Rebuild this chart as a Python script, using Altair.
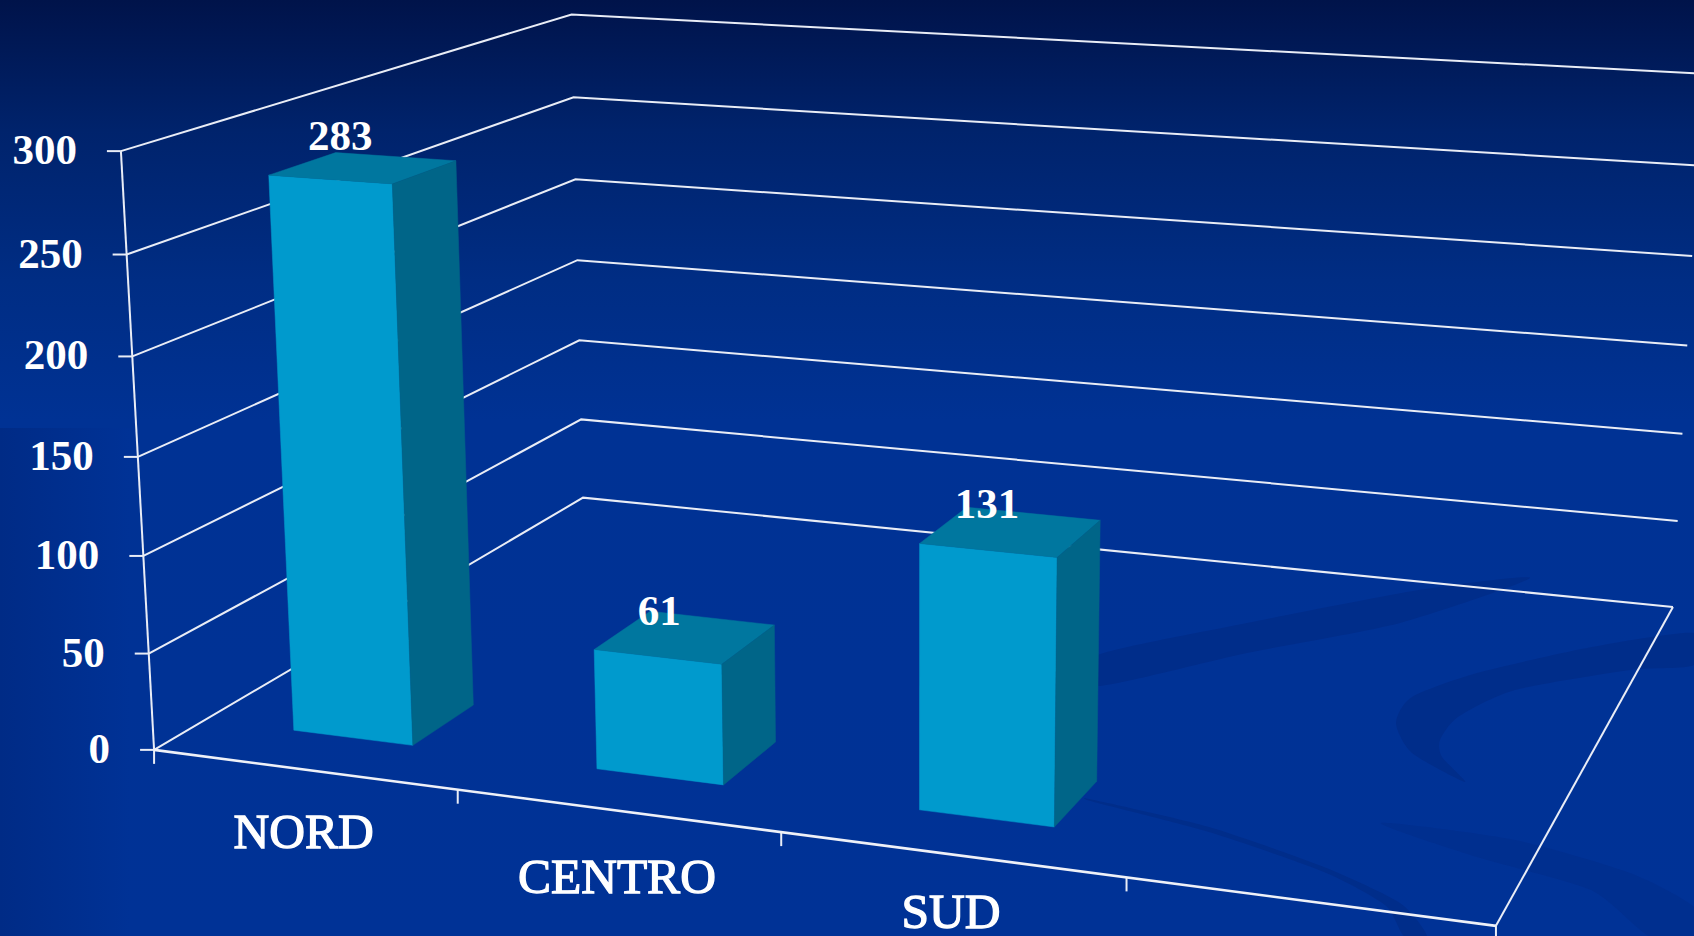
import altair as alt
import numpy as np
import pandas as pd

# Chart content
categories = ["NORD", "CENTRO", "SUD"]
values = [283, 61, 131]
value_ticks = [0, 50, 100, 150, 200, 250, 300]

# Layout of the 3D box: one empty band follows the last category
N_BANDS = 4
BAR_WIDTH = 0.4
DEPTH_FRONT, DEPTH_BACK = 0.1, 0.233

# Camera that maps (band, value / 100, depth) to page pixels
CAMERA = np.array([
    [289.63724162608827, -12.741425922855699, 575.3132291635848, 154.0771284311262],
    [15.625389953778255, -201.68992601910819, -127.27733025485871, 749.8733151865808],
    [-0.030637676831297256, -0.013941565034277126, 0.251066238724831, 1.0],
])

W, H = 1694, 936


def project(band, value, depth):
    p = CAMERA @ np.array([band, value / 100.0, depth, 1.0])
    return p[0] / p[2], p[1] / p[2]


x_scale = alt.Scale(domain=[0, W], range=[0, W])
y_scale = alt.Scale(domain=[0, H], range=[0, H])
X = alt.X("x:Q", scale=x_scale, axis=None)
Y = alt.Y("y:Q", scale=y_scale, axis=None)
X2 = alt.X("px:Q", scale=x_scale, axis=None)
Y2 = alt.Y("py:Q", scale=y_scale, axis=None)

one_row = pd.DataFrame({"a": [0]})

# Page background: dark navy fading into royal blue
background = alt.Chart(one_row).mark_rect(
    color=alt.Gradient(
        gradient="linear", x1=0, x2=0, y1=0, y2=1,
        stops=[
            alt.GradientStop(offset=0.0, color="#00134a"),
            alt.GradientStop(offset=0.14, color="#00236c"),
            alt.GradientStop(offset=0.30, color="#002d84"),
            alt.GradientStop(offset=0.45, color="#003294"),
            alt.GradientStop(offset=1.0, color="#003296"),
        ],
    )
).encode(x=alt.value(0), x2=alt.value(W), y=alt.value(0), y2=alt.value(H))

# Soft darker strip along the lower left edge
left_strip = alt.Chart(one_row).mark_rect(
    color=alt.Gradient(
        gradient="linear", x1=0, x2=1, y1=0, y2=0,
        stops=[
            alt.GradientStop(offset=0.0, color="#002b86"),
            alt.GradientStop(offset=1.0, color="#003296"),
        ],
    )
).encode(x=alt.value(0), x2=alt.value(130), y=alt.value(428), y2=alt.value(H))

# Decorative swooshes of the slide template
swoosh_crescent_x = [1694, 1592, 1477, 1412, 1396, 1412, 1465, 1442, 1440, 1458, 1515, 1630, 1694]
swoosh_crescent_y = [633, 647, 673, 697, 723, 753, 782, 757, 740, 717, 690, 670, 665]
swoosh_band_x = [1098, 1247, 1419, 1530, 1400, 1247, 1098]
swoosh_band_y = [655, 623, 590, 578, 623, 653, 686]
swoosh_thin_x = [1094, 1209, 1324, 1400, 1427, 1404, 1385, 1324, 1209, 1094]
swoosh_thin_y = [800, 827, 867, 903, 936, 936, 905, 872, 832, 802]
swoosh_low_x = [1381, 1515, 1630, 1694, 1694, 1649, 1591, 1477]
swoosh_low_y = [823, 840, 873, 907, 936, 936, 890, 857]


def swoosh_table(*shapes):
    rows = []
    for name, xs, ys in shapes:
        for i, (a, b) in enumerate(zip(xs, ys)):
            rows.append({"s": name, "i": i, "px": a, "py": b})
    return pd.DataFrame(rows)


swooshes = alt.Chart(swoosh_table(
    ("crescent", swoosh_crescent_x, swoosh_crescent_y),
    ("band", swoosh_band_x, swoosh_band_y),
    ("thin", swoosh_thin_x, swoosh_thin_y),
)).mark_line(
    fill="#002d8a", stroke="#002d8a", strokeWidth=0, interpolate="cardinal-closed", tension=0.3
).encode(x=X2, y=Y2, detail="s:N", order="i:Q")

swoosh_faint = alt.Chart(swoosh_table(("low", swoosh_low_x, swoosh_low_y))).mark_line(
    fill="#002f8f", stroke="#002f8f", strokeWidth=0, interpolate="cardinal-closed", tension=0.3
).encode(x=X2, y=Y2, detail="s:N", order="i:Q")

# Wire frame: walls, floor and ticks
wire = []
thick = []


def add(rows, seg, points):
    for i, (a, b) in enumerate(points):
        rows.append({"seg": seg, "i": i, "x": a, "y": b})


for v in value_ticks:
    add(wire, f"grid{v}", [project(0, v, 0), project(0, v, 1), project(N_BANDS, v, 1)])
    fx, fy = project(0, v, 0)
    add(wire, f"tick{v}", [(fx - 14, fy), (fx, fy)])
add(wire, "axis", [project(0, 0, 0), project(0, 300, 0)])
add(wire, "side", [project(N_BANDS, 0, 0), project(N_BANDS, 0, 1)])
add(thick, "front", [project(0, 0, 0), project(N_BANDS, 0, 0)])
for b in range(N_BANDS + 1):
    fx, fy = project(b, 0, 0)
    add(wire, f"xtick{b}", [(fx, fy), (fx, fy + 14)])

wire_layer = alt.Chart(pd.DataFrame(wire)).mark_line(color="#e9edf6", strokeWidth=2).encode(
    x=X, y=Y, detail="seg:N", order="i:Q"
)
front_layer = alt.Chart(pd.DataFrame(thick)).mark_line(color="#eef1f8", strokeWidth=2.6).encode(
    x=X, y=Y, detail="seg:N", order="i:Q"
)

# Bars: three visible faces per category
faces = {"front": [], "top": [], "side": []}
for b, (cat, val) in enumerate(zip(categories, values)):
    x0, x1 = b + 0.5 - BAR_WIDTH / 2, b + 0.5 + BAR_WIDTH / 2
    outlines = {
        "front": [(x0, 0, DEPTH_FRONT), (x1, 0, DEPTH_FRONT), (x1, val, DEPTH_FRONT), (x0, val, DEPTH_FRONT)],
        "top": [(x0, val, DEPTH_FRONT), (x1, val, DEPTH_FRONT), (x1, val, DEPTH_BACK), (x0, val, DEPTH_BACK)],
        "side": [(x1, 0, DEPTH_FRONT), (x1, 0, DEPTH_BACK), (x1, val, DEPTH_BACK), (x1, val, DEPTH_FRONT)],
    }
    for face, corners in outlines.items():
        pts = [project(*c) for c in corners]
        pts.append(pts[0])
        add(faces[face], cat, pts)

face_colors = {"front": "#009acd", "top": "#00779f", "side": "#006588"}
bar_layers = [
    alt.Chart(pd.DataFrame(rows)).mark_line(
        fill=face_colors[face], stroke=face_colors[face], strokeWidth=0.5
    ).encode(x=X, y=Y, detail="seg:N", order="i:Q")
    for face, rows in faces.items()
]

FONT = "Liberation Serif"

# Value labels above each bar top
VALUE_LABEL_DX = [-23, -26, -24]
VALUE_LABEL_DY = [-31, -25, -27]
value_rows = []
for b, val in enumerate(values):
    cx, cy = project(b + 0.5, val, (DEPTH_FRONT + DEPTH_BACK) / 2)
    value_rows.append({"x": cx + VALUE_LABEL_DX[b], "y": cy + VALUE_LABEL_DY[b], "t": str(val)})
value_labels = alt.Chart(pd.DataFrame(value_rows)).mark_text(
    font=FONT, fontWeight="bold", fontSize=43, color="white", baseline="middle", align="center"
).encode(x=X, y=Y, text="t:N")

# Value axis labels
tick_rows = []
for v in value_ticks:
    fx, fy = project(0, v, 0)
    tick_rows.append({"x": fx - 44, "y": fy, "t": str(v)})
tick_labels = alt.Chart(pd.DataFrame(tick_rows)).mark_text(
    font=FONT, fontWeight="bold", fontSize=43, color="white", baseline="middle", align="right"
).encode(x=X, y=Y, text="t:N")

# Category labels under the front edge
CATEGORY_LABEL_DY = [64, 67, 59]
cat_rows = []
for b, cat in enumerate(categories):
    fx, fy = project(b + 0.5, 0, 0)
    cat_rows.append({"x": fx, "y": fy + CATEGORY_LABEL_DY[b], "t": cat})
cat_labels = alt.Chart(pd.DataFrame(cat_rows)).mark_text(
    font=FONT, fontSize=49.5, color="white", stroke="white", strokeWidth=1.3,
    baseline="middle", align="center"
).encode(x=X, y=Y, text="t:N")

chart = alt.layer(
    background, left_strip, swooshes, swoosh_faint, wire_layer, front_layer,
    *bar_layers, value_labels, tick_labels, cat_labels
).properties(
    width=W, height=H, padding=0, autosize=alt.AutoSizeParams(type="none"), background="#003296"
).configure_view(stroke=None)

chart.save("out.html", embed_options={"renderer": "svg", "actions": False})
